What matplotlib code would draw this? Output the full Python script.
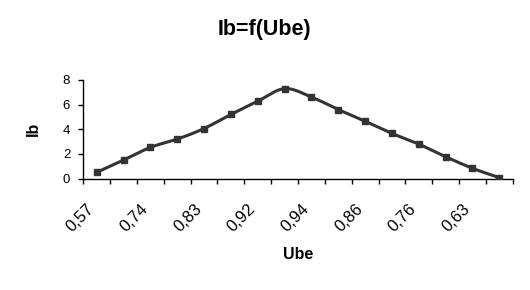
import matplotlib.pyplot as plt
import matplotlib.transforms as mtrans
import numpy as np

plt.rcParams['font.family'] = ['Liberation Sans', 'DejaVu Sans']

# category labels (Ube) and values (Ib)
ube = ["0,57", "0,67", "0,74", "0,79", "0,83", "0,87", "0,92", "0,94",
       "0,94", "0,90", "0,86", "0,81", "0,76", "0,71", "0,63", "0,55"]
ib = [0.50, 1.50, 2.53, 3.20, 4.06, 5.20, 6.28, 7.30,
      6.62, 5.60, 4.65, 3.66, 2.79, 1.77, 0.83, 0.07]


def smooth(y, n=20):
    # catmull-rom curve through the points, like Excel's smoothed line
    p = np.concatenate([[2 * y[0] - y[1]], y, [2 * y[-1] - y[-2]]])
    xs, ys = [], []
    for i in range(1, len(p) - 2):
        t = np.linspace(0, 1, n, endpoint=False)
        p0, p1, p2, p3 = p[i - 1], p[i], p[i + 1], p[i + 2]
        yy = 0.5 * (2 * p1 + (-p0 + p2) * t + (2 * p0 - 5 * p1 + 4 * p2 - p3) * t ** 2
                    + (-p0 + 3 * p1 - 3 * p2 + p3) * t ** 3)
        xs.extend(i - 1 + t)
        ys.extend(yy)
    xs.append(len(y) - 1)
    ys.append(y[-1])
    return np.array(xs), np.array(ys)


x = np.arange(len(ib))
y = np.array(ib)
sx, sy = smooth(y)

W, H = 530, 290
fig = plt.figure(figsize=(W / 100, H / 100), dpi=100)
ax_l, ax_r, ax_t, ax_b = 83.3, 512.7, 80, 178.5
ax = fig.add_axes([ax_l / W, 1 - ax_b / H, (ax_r - ax_l) / W, (ax_b - ax_t) / H])

ax.plot(sx, sy, color='#333333', lw=2.2, zorder=3, solid_capstyle='round')
ax.plot(x, y, ls='none', marker='s', ms=4.5, color='#333333', zorder=4)

ax.set_xlim(-0.5, len(ib) - 0.5)
ax.set_ylim(0, 8)
ax.set_yticks([0, 2, 4, 6, 8])
ax.set_xticks(np.arange(-0.5, len(ib), 1))
ax.set_xticklabels([])
ax.set_xticks(x[::2], minor=True)
ax.set_xticklabels(ube[::2], minor=True, rotation=45, ha='right', va='top',
                   rotation_mode='anchor', fontsize=12)
ax.tick_params(axis='x', which='minor', length=0, pad=16.5)
ax.tick_params(axis='x', which='major', length=3.6, width=1, direction='out')
ax.tick_params(axis='y', length=3.6, width=1, labelsize=9.5, pad=5.8)

shift = mtrans.ScaledTranslation(-10 / 100, 0, fig.dpi_scale_trans)
for lab in ax.get_xticklabels(minor=True):
    lab.set_transform(lab.get_transform() + shift)

for s in ['top', 'right']:
    ax.spines[s].set_visible(False)
for s in ['left', 'bottom']:
    ax.spines[s].set_linewidth(1)

ax.set_xlabel("Ube", fontsize=11.5, fontweight='bold', va='baseline')
ax.xaxis.set_label_coords(0.5, (ax_b - 259) / (ax_b - ax_t))
ax.set_ylabel("Ib", fontsize=11.5, fontweight='bold', va='center')
ax.yaxis.set_label_coords((33 - ax_l) / (ax_r - ax_l), 0.5)
fig.text(264.5 / W, 1 - 35 / H, "Ib=f(Ube)", ha='center', va='baseline',
         fontsize=15.5, fontweight='bold')

plt.savefig('out.png', dpi=100)
